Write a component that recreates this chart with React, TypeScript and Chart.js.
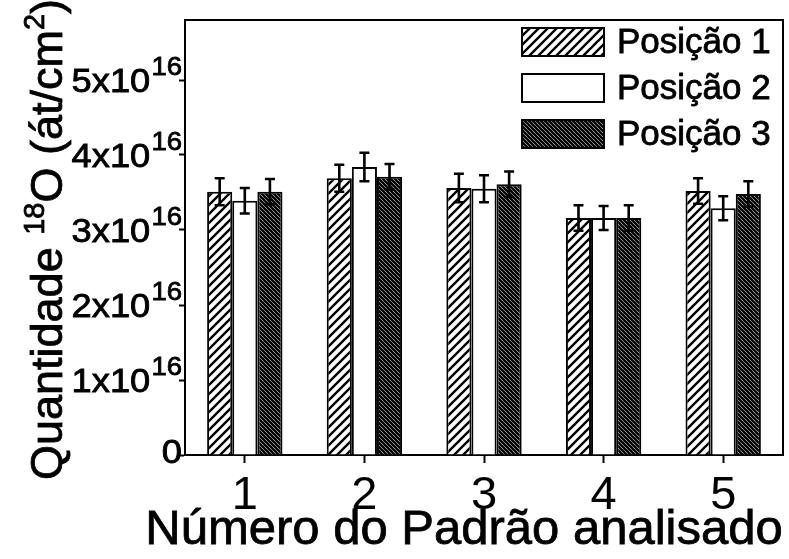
import React, { useEffect, useRef } from 'react';
import { Chart, registerables } from 'chart.js';

Chart.register(...registerables);

// ---- data ----
const categories = ['1', '2', '3', '4', '5'];
const seriesLabels = ['Posição 1', 'Posição 2', 'Posição 3'];
const pos1 = [3.51e16, 3.69e16, 3.56e16, 3.16e16, 3.52e16];
const pos2 = [3.39e16, 3.84e16, 3.55e16, 3.16e16, 3.29e16];
const pos3 = [3.51e16, 3.71e16, 3.61e16, 3.16e16, 3.48e16];
const err1 = [0.18e16, 0.18e16, 0.19e16, 0.17e16, 0.17e16];
const err2 = [0.17e16, 0.19e16, 0.18e16, 0.16e16, 0.16e16];
const err3 = [0.17e16, 0.17e16, 0.17e16, 0.17e16, 0.17e16];
const yTickValues = [0, 1e16, 2e16, 3e16, 4e16, 5e16];
const yMax = 5.8e16;
const xTitle = 'Número do Padrão analisado';
// y title pieces: [text, isSuperscript]
const yTitleParts: [string, boolean][] = [
  ['Quantidade ', false],
  ['18', true],
  ['O (át/cm', false],
  ['2', true],
  [')', false],
];

const FONT = "'Liberation Sans', Arial, Helvetica, sans-serif";

function makeForwardHatch(): CanvasPattern | string {
  const s = 9;
  const c = document.createElement('canvas');
  c.width = s;
  c.height = s;
  const ctx = c.getContext('2d');
  if (!ctx) return '#fff';
  ctx.fillStyle = '#fff';
  ctx.fillRect(0, 0, s, s);
  ctx.strokeStyle = '#000';
  ctx.lineWidth = 2.4;
  ctx.beginPath();
  ctx.moveTo(-1, s + 1);
  ctx.lineTo(s + 1, -1);
  ctx.moveTo(-1, 1);
  ctx.lineTo(1, -1);
  ctx.moveTo(s - 1, s + 1);
  ctx.lineTo(s + 1, s - 1);
  ctx.stroke();
  return ctx.createPattern(c, 'repeat') || '#fff';
}

function makeBackHatch(): CanvasPattern | string {
  const s = 4;
  const c = document.createElement('canvas');
  c.width = s;
  c.height = s;
  const ctx = c.getContext('2d');
  if (!ctx) return '#333';
  ctx.fillStyle = '#fff';
  ctx.fillRect(0, 0, s, s);
  ctx.strokeStyle = '#000';
  ctx.lineWidth = 2.3;
  ctx.beginPath();
  ctx.moveTo(-1, -1);
  ctx.lineTo(s + 1, s + 1);
  ctx.moveTo(-1, s - 1);
  ctx.lineTo(1, s + 1);
  ctx.moveTo(s - 1, -1);
  ctx.lineTo(s + 1, 1);
  ctx.stroke();
  return ctx.createPattern(c, 'repeat') || '#333';
}

function heavyText(ctx: CanvasRenderingContext2D, t: string, x: number, y: number) {
  ctx.fillText(t, x, y);
  ctx.strokeText(t, x, y);
}

export default function App() {
  const ref = useRef<HTMLCanvasElement | null>(null);

  useEffect(() => {
    const canvas = ref.current;
    if (!canvas) return;
    const fwd = makeForwardHatch();
    const back = makeBackHatch();
    const fills = [fwd, '#ffffff', back];
    const errs = [err1, err2, err3];
    const values = [pos1, pos2, pos3];

    const errorBars = {
      id: 'errorBars',
      afterDatasetsDraw(chart: any) {
        const ctx = chart.ctx;
        const y = chart.scales.y;
        ctx.save();
        ctx.strokeStyle = '#000';
        ctx.lineWidth = 2.6;
        values.forEach((vals, di) => {
          const meta = chart.getDatasetMeta(di);
          meta.data.forEach((bar: any, i: number) => {
            const top = y.getPixelForValue(vals[i] + errs[di][i]);
            const bot = y.getPixelForValue(vals[i] - errs[di][i]);
            const x = bar.x;
            ctx.beginPath();
            ctx.moveTo(x, top);
            ctx.lineTo(x, bot);
            ctx.moveTo(x - 5, top);
            ctx.lineTo(x + 5, top);
            ctx.moveTo(x - 5, bot);
            ctx.lineTo(x + 5, bot);
            ctx.stroke();
          });
        });
        ctx.restore();
      },
    };

    const decorations = {
      id: 'decorations',
      afterDraw(chart: any) {
        const ctx = chart.ctx;
        const a = chart.chartArea;
        const yS = chart.scales.y;
        ctx.save();
        // frame (top and right)
        ctx.strokeStyle = '#000';
        ctx.lineWidth = 2;
        ctx.beginPath();
        ctx.moveTo(a.left, a.top);
        ctx.lineTo(a.right, a.top);
        ctx.lineTo(a.right, a.bottom);
        ctx.stroke();

        ctx.fillStyle = '#000';
        ctx.strokeStyle = '#000';
        ctx.lineWidth = 0.8;

        // y tick labels with superscript exponent (slightly wide, like the original)
        ctx.textBaseline = 'alphabetic';
        ctx.textAlign = 'right';
        const rightX = a.left - 3;
        yTickValues.forEach((v) => {
          const py = yS.getPixelForValue(v);
          const n = Math.round(v / 1e16);
          ctx.save();
          ctx.translate(rightX, py);
          ctx.scale(1.1, 1);
          if (n === 0) {
            ctx.font = `33px ${FONT}`;
            heavyText(ctx, '0', 0, 8);
          } else {
            ctx.font = `25px ${FONT}`;
            const sup = '16';
            const supW = ctx.measureText(sup).width;
            heavyText(ctx, sup, 0, -5);
            ctx.font = `33px ${FONT}`;
            heavyText(ctx, `${n}x10`, -supW - 1, 12);
          }
          ctx.restore();
        });

        // y title (rotated) with superscripts
        ctx.save();
        const big = `45px ${FONT}`;
        const small = `29px ${FONT}`;
        let total = 0;
        yTitleParts.forEach(([t, sup]) => {
          ctx.font = sup ? small : big;
          total += ctx.measureText(t).width;
        });
        const cx = 62;
        const cy = (a.top + a.bottom) / 2 + 2;
        ctx.translate(cx, cy);
        ctx.rotate(-Math.PI / 2);
        ctx.textAlign = 'left';
        ctx.textBaseline = 'alphabetic';
        let x = -total / 2;
        yTitleParts.forEach(([t, sup]) => {
          ctx.font = sup ? small : big;
          heavyText(ctx, t, x, sup ? -18 : 0);
          x += ctx.measureText(t).width;
        });
        ctx.restore();

        // x title
        ctx.font = `49px ${FONT}`;
        ctx.textAlign = 'center';
        ctx.textBaseline = 'alphabetic';
        heavyText(ctx, xTitle, 464, 544);

        // legend
        const bx = a.right - 261;
        const bw = 82;
        const bh = 28;
        ctx.font = `35px ${FONT}`;
        ctx.textBaseline = 'middle';
        ctx.textAlign = 'left';
        seriesLabels.forEach((label, i) => {
          const cy2 = a.top + 22 + i * 46;
          ctx.fillStyle = fills[i] as any;
          ctx.fillRect(bx, cy2 - bh / 2, bw, bh);
          ctx.lineWidth = 2;
          ctx.strokeStyle = '#000';
          ctx.strokeRect(bx, cy2 - bh / 2, bw, bh);
          ctx.fillStyle = '#000';
          ctx.lineWidth = 0.8;
          heavyText(ctx, label, bx + 95, cy2 + 1);
        });
        ctx.restore();
      },
    };

    const chart = new Chart(canvas, {
      type: 'bar',
      data: {
        labels: categories,
        datasets: values.map((vals, i) => ({
          label: seriesLabels[i],
          data: vals,
          backgroundColor: fills[i] as any,
          borderColor: '#000',
          borderWidth: 2,
          categoryPercentage: 0.63,
          barPercentage: 1.0,
        })),
      },
      options: {
        animation: false,
        responsive: false,
        layout: { padding: { top: 20, right: 6, left: 0, bottom: 0 } },
        plugins: {
          legend: { display: false },
          tooltip: { enabled: false },
        },
        scales: {
          x: {
            type: 'category',
            offset: true,
            grid: {
              display: true,
              offset: false,
              drawOnChartArea: false,
              tickLength: 8,
              tickWidth: 2,
              tickColor: '#000',
            },
            border: { display: true, color: '#000', width: 2 },
            ticks: {
              color: '#000',
              font: { family: FONT, size: 47, lineHeight: 1 },
              padding: 10,
            },
            title: { display: false, text: xTitle },
            afterFit(scale: any) {
              scale.height = 104;
            },
          },
          y: {
            type: 'linear',
            min: 0,
            max: yMax,
            grid: {
              display: true,
              drawOnChartArea: false,
              tickLength: 6,
              tickWidth: 2,
              tickColor: '#000',
            },
            border: { display: true, color: '#000', width: 2 },
            afterBuildTicks(scale: any) {
              scale.ticks = yTickValues.map((v) => ({ value: v }));
            },
            ticks: { display: false },
            title: { display: false, text: 'Quantidade ¹⁸O (át/cm²)' },
            afterFit(scale: any) {
              scale.width = 185;
            },
          },
        },
      },
      plugins: [errorBars, decorations],
    });

    return () => chart.destroy();
  }, []);

  return (
    <div style={{ position: 'absolute', left: 0, top: 0, width: 789, height: 559, background: '#fff' }}>
      <canvas ref={ref} width={789} height={559} style={{ display: 'block', width: 789, height: 559 }} />
    </div>
  );
}
